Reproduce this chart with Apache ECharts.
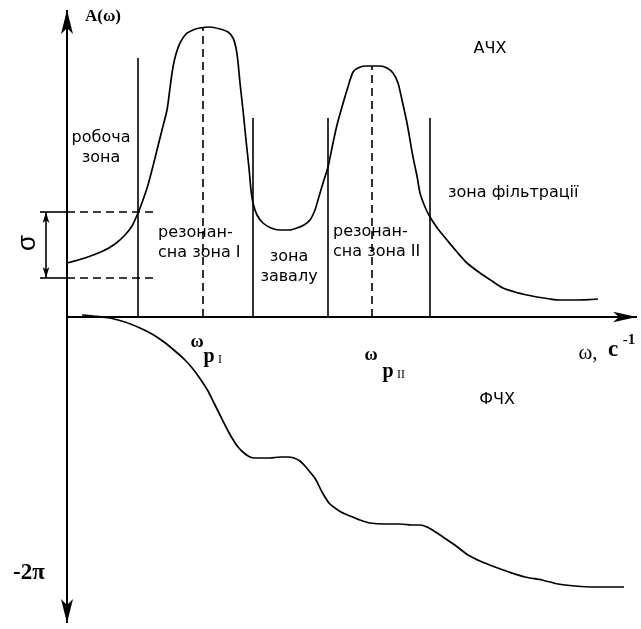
<!DOCTYPE html>
<html><head><meta charset="utf-8">
<script src="https://cdn.jsdelivr.net/npm/echarts@6/dist/echarts.min.js"></script>
<style>html,body{margin:0;padding:0;background:#fff}#c{width:641px;height:629px}</style>
</head><body><div id="c"></div><script>
// Schematic values (arbitrary units, origin at intersection of axes)
const achOmega = [0,1.8,3.6,4.8,5.8,6.5,7.1,7.6,8.1,8.6,9.0,9.5,10.0,10.3,10.6,10.9,11.3,11.9,12.6,13.3,14.3,15.3,16.1,16.6,16.9,17.1,17.3,17.6,17.9,18.2,18.4,18.6,19.0,19.6,20.4,21.3,22.3,23.0,23.7,24.3,24.8,25.1,25.6,26.1,26.6,27.0,27.5,28.0,28.6,29.1,29.8,30.5,31.3,32.0,32.6,33.1,33.5,34.0,34.3,34.6,35.0,35.3,35.8,36.3,37.1,38.0,39.0,40.0,41.3,42.5,43.6,44.8,46.0,47.0,48.3,49.3,50.8,52.3,53.1];
const achValue = [5.4,5.9,6.6,7.3,8.2,9.1,10.4,11.7,13.2,15.1,16.7,18.7,20.7,22.9,25.0,26.3,27.4,28.3,28.7,28.9,29.0,28.8,28.5,27.9,26.9,25.5,23.4,20.7,17.7,14.9,12.7,11.4,10.2,9.4,8.9,8.7,8.7,8.9,9.2,9.7,10.7,11.7,13.4,15.0,17.4,19.2,21.0,22.7,24.5,24.9,25.1,25.1,25.1,24.9,24.4,23.4,21.7,19.4,17.7,16.0,14.1,12.4,11.0,10.0,8.8,7.7,6.5,5.4,4.4,3.6,2.9,2.5,2.2,2.0,1.8,1.7,1.7,1.75,1.8];
const fchOmega = [1.5,2.6,4.3,5.8,7.3,8.5,9.7,10.8,11.8,12.6,13.4,14.1,14.7,15.3,15.9,16.5,17.1,17.7,18.3,18.8,19.5,20.3,21.3,22.1,22.7,23.3,23.8,24.3,24.9,25.5,26.2,26.8,27.4,28.3,29.3,30.3,31.8,33.3,34.5,35.3,36.0,36.7,37.6,38.5,39.3,40.1,41.3,42.8,44.2,45.8,47.5,49.1,50.8,52.8,54.3,55.7];
const fchValue = [0.2,0.1,-0.1,-0.5,-1.1,-1.7,-2.5,-3.4,-4.3,-5.2,-6.3,-7.4,-8.6,-9.8,-11.0,-12.1,-13.0,-13.6,-14.0,-14.1,-14.1,-14.1,-14.0,-14.0,-14.1,-14.4,-14.9,-15.5,-16.3,-17.5,-18.6,-19.1,-19.5,-19.9,-20.3,-20.6,-20.7,-20.7,-20.8,-20.8,-21.0,-21.4,-22.0,-22.6,-23.2,-23.8,-24.4,-25.0,-25.5,-26.0,-26.3,-26.7,-26.9,-27.0,-27.0,-27.0];
const zoneOmega = [7.1, 18.6, 26.1, 36.3];
const zoneTop = [25.9, 19.9, 19.9, 19.9];
const resOmega = [13.6, 30.5];
const resTop = [28.9, 25.1];
const sigmaLevels = [10.5, 3.9];
const sigmaLeft = -2.7, sigmaDashEnd = 8.6, sigmaArrowX = -2.1;
const axisTop = 30.7, axisBottom = -30.6, axisRight = 57.0;

// layout (pixels)
const W = 641, H = 629, X0 = 67, Y0 = 317, PX = 10;

const pairs = (xs, ys) => xs.map((x, i) => [x, ys[i]]);
const black = '#000';

const markData = [];
markData.push([{coord:[0, axisBottom], symbol:'arrow', symbolSize:[9,24]}, {coord:[0, axisTop], symbol:'arrow', symbolSize:[9,24], lineStyle:{width:2}}]);
markData.push([{coord:[0, 0], symbol:'none'}, {coord:[axisRight, 0], symbol:'arrow', symbolSize:[8,24], lineStyle:{width:2}}]);
zoneOmega.forEach((w, i) => markData.push([{coord:[w, 0], symbol:'none'}, {coord:[w, zoneTop[i]], symbol:'none', lineStyle:{width:1.6}}]));
resOmega.forEach((w, i) => markData.push([{coord:[w, 0], symbol:'none'}, {coord:[w, resTop[i]], symbol:'none', lineStyle:{width:1.6, type:[8,5]}}]));
sigmaLevels.forEach(l => {
  markData.push([{coord:[sigmaLeft, l], symbol:'none'}, {coord:[0, l], symbol:'none', lineStyle:{width:1.6}}]);
  markData.push([{coord:[0, l], symbol:'none'}, {coord:[sigmaDashEnd, l], symbol:'none', lineStyle:{width:1.6, type:[8,5]}}]);
});
markData.push([{coord:[sigmaArrowX, sigmaLevels[1]], symbol:'arrow', symbolSize:[5,11]}, {coord:[sigmaArrowX, sigmaLevels[0]], symbol:'arrow', symbolSize:[5,11], lineStyle:{width:1.6}}]);

const sans = 'DejaVu Sans, Verdana, sans-serif';
const serif = 'Liberation Serif, Times New Roman, serif';
function txt(x, y, text, opts) {
  return Object.assign({type:'text', x, y, silent:true, style:Object.assign({text, fill:black, align:'center', verticalAlign:'middle', fontFamily:sans, fontSize:16}, opts && opts.style)}, opts && opts.el);
}

const chart = echarts.init(document.getElementById('c'), null, {renderer:'canvas'});
chart.setOption({
  animation:false,
  backgroundColor:'#fff',
  grid:{left:0, right:0, top:0, bottom:0},
  xAxis:{type:'value', min:-X0/PX, max:(W-X0)/PX, show:false},
  yAxis:{type:'value', min:-(H-Y0)/PX, max:Y0/PX, show:false},
  series:[
    {type:'line', data:pairs(achOmega, achValue), smooth:0.25, showSymbol:false, symbol:'none', lineStyle:{color:black, width:1.7}, silent:true},
    {type:'line', data:pairs(fchOmega, fchValue), smooth:0.25, showSymbol:false, symbol:'none', lineStyle:{color:black, width:1.7}, silent:true},
    {type:'line', data:[], silent:true, markLine:{silent:true, animation:false, label:{show:false}, lineStyle:{color:black, type:'solid', width:1.6}, data:markData}}
  ],
  graphic:[
    txt(103, 17, 'A(ω)', {style:{fontFamily:serif, fontWeight:'bold', fontSize:17}}),
    txt(490, 49, 'АЧХ'),
    txt(497, 400, 'ФЧХ'),
    txt(101, 148, 'робоча\nзона', {style:{lineHeight:20}}),
    txt(158, 243, 'резонан-\nсна зона I', {style:{lineHeight:20, align:'left'}}),
    txt(289, 267, 'зона\nзавалу', {style:{lineHeight:20}}),
    txt(333, 242, 'резонан-\nсна зона II', {style:{lineHeight:20, align:'left'}}),
    txt(448, 193, 'зона фільтрації', {style:{align:'left'}}),
    txt(28, 243, 'σ', {el:{rotation:Math.PI/2}, style:{fontFamily:'Liberation Sans, Arial, sans-serif', fontSize:26}}),
    txt(29, 573, '-2π', {style:{fontFamily:serif, fontWeight:'bold', fontSize:23}}),
    txt(197, 342, 'ω', {style:{fontFamily:serif, fontWeight:'bold', fontSize:18}}),
    txt(209, 357, 'p', {style:{fontFamily:serif, fontWeight:'bold', fontSize:20}}),
    txt(220, 360, 'I', {style:{fontFamily:serif, fontSize:12}}),
    txt(371, 355, 'ω', {style:{fontFamily:serif, fontWeight:'bold', fontSize:18}}),
    txt(388, 372, 'p', {style:{fontFamily:serif, fontWeight:'bold', fontSize:20}}),
    txt(401, 375, 'II', {style:{fontFamily:serif, fontSize:12}}),
    txt(588, 353, 'ω,', {style:{fontFamily:serif, fontSize:21}}),
    txt(613, 350, 'c', {style:{fontFamily:serif, fontWeight:'bold', fontSize:23}}),
    txt(629, 340, '-1', {style:{fontFamily:serif, fontWeight:'bold', fontSize:15}})
  ]
});
</script></body></html>
